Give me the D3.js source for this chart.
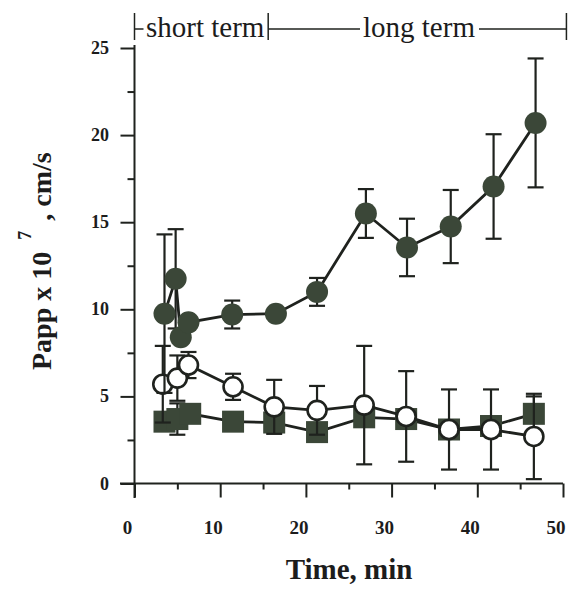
<!DOCTYPE html>
<html>
<head>
<meta charset="utf-8">
<script src="https://cdn.jsdelivr.net/npm/d3@7"></script>
<style>
  body { margin: 0; background: #fff; }
  text { font-family: "Liberation Serif", "Times New Roman", serif; fill: #1c1c1c; }
</style>
</head>
<body>
<svg id="chart" width="568" height="589"></svg>
<script>
// data
// filled circles
const timeFilled = [3.5, 4.8, 5.4, 6.3, 11.4, 16.5, 21.3, 27.0, 31.8, 36.9, 41.9, 46.8]
const pappFilled = [9.75, 11.75, 8.4, 9.25, 9.7, 9.75, 11.0, 15.5, 13.55, 14.75, 17.05, 20.7]
const errFilled = [4.55, 2.85, 0, 0, 0.8, 0, 0.8, 1.4, 1.65, 2.1, 3.0, 3.7]

// open circles
const timeOpen = [3.3, 5.0, 6.3, 11.5, 16.3, 21.3, 26.8, 31.7, 36.7, 41.6, 46.6]
const pappOpen = [5.7, 6.05, 6.8, 5.55, 4.4, 4.2, 4.5, 3.85, 3.1, 3.1, 2.7]
const errOpen = [2.2, 1.3, 0.75, 0.75, 1.55, 1.4, 3.4, 2.6, 2.3, 2.3, 2.45]

// filled squares
const timeSquare = [3.5, 5.0, 6.5, 11.5, 16.3, 21.3, 26.8, 31.7, 36.7, 41.6, 46.6]
const pappSquare = [3.55, 3.7, 4.0, 3.55, 3.5, 2.95, 3.8, 3.7, 3.1, 3.3, 4.0]
const errSquare = [0, 0.9, 0, 0, 0, 0, 0, 0, 0, 0, 1.0]

const xTicks = [0, 10, 20, 30, 40, 50]
const yTicks = [0, 5, 10, 15, 20, 25]

let svg = d3.select("#chart")
let ink = "#1f221e"
let markFill = "#3b4738"

let xScale = d3.scaleLinear().domain([0, 50]).range([134.5, 563])
let yScale = d3.scaleLinear().domain([0, 25]).range([483.5, 48])

// axes
let xAxis = d3.axisBottom(xScale)
    .tickValues(d3.range(0, 51, 5))
    .tickSize(0)
    .tickFormat("")
let xAxisGroup = svg.append("g")
    .attr("transform", `translate(0, ${yScale(0)})`)
    .call(xAxis)
xAxisGroup.select(".domain").remove()
xAxisGroup.append("line")
    .attr("x1", 120).attr("x2", xScale(50))
    .attr("stroke", ink).attr("stroke-width", 2)
xAxisGroup.selectAll(".tick line")
    .attr("y2", d => d % 10 == 0 ? 14 : 6)
    .attr("stroke", ink).attr("stroke-width", 2)

let yAxis = d3.axisLeft(yScale)
    .tickValues(d3.range(0, 25.1, 2.5))
    .tickSize(0)
    .tickFormat("")
let yAxisGroup = svg.append("g")
    .attr("transform", `translate(${xScale(0)}, 0)`)
    .call(yAxis)
yAxisGroup.select(".domain").remove()
yAxisGroup.append("line")
    .attr("y1", 45).attr("y2", 498)
    .attr("stroke", ink).attr("stroke-width", 2)
yAxisGroup.selectAll(".tick line")
    .attr("x2", d => d % 5 == 0 ? -14 : -7)
    .attr("stroke", ink).attr("stroke-width", 2)

// tick labels
svg.selectAll(".xlab")
    .data(xTicks)
    .enter()
    .append("text")
    .attr("x", d => xScale(d) - 7)
    .attr("y", 534)
    .attr("text-anchor", "middle")
    .style("font-size", "19px")
    .style("font-weight", "bold")
    .text(d => d)

svg.selectAll(".ylab")
    .data(yTicks)
    .enter()
    .append("text")
    .attr("x", 109)
    .attr("y", d => yScale(d) + 6)
    .attr("text-anchor", "end")
    .style("font-size", "18px")
    .style("font-weight", "bold")
    .text(d => d)

// axis titles
svg.append("text")
    .attr("x", 349)
    .attr("y", 579)
    .attr("text-anchor", "middle")
    .style("font-size", "29px")
    .style("font-weight", "bold")
    .text("Time, min")

let yTitle = svg.append("text")
    .attr("transform", "translate(51, 370) rotate(-90)")
    .style("font-size", "28px")
    .style("font-weight", "bold")
yTitle.append("tspan").text("Papp x 10")
yTitle.append("tspan").attr("dx", 12).attr("dy", -20).style("font-size", "18px").text("7")
yTitle.append("tspan").attr("dx", 10).attr("dy", 20).text(", cm/s")

// short term / long term bracket
let bracketY = 29
let xs = [xScale(0), xScale(15.6), xScale(50.4)]
xs.forEach(function (x) {
    svg.append("line")
        .attr("x1", x).attr("x2", x).attr("y1", 13).attr("y2", 40)
        .attr("stroke", ink).attr("stroke-width", 1.5)
})
svg.append("line").attr("x1", xs[0]).attr("x2", xs[0] + 9).attr("y1", bracketY).attr("y2", bracketY)
    .attr("stroke", ink).attr("stroke-width", 1.5)
svg.append("line").attr("x1", xs[1]).attr("x2", 360).attr("y1", bracketY).attr("y2", bracketY)
    .attr("stroke", ink).attr("stroke-width", 1.5)
svg.append("line").attr("x1", 479).attr("x2", xs[2]).attr("y1", bracketY).attr("y2", bracketY)
    .attr("stroke", ink).attr("stroke-width", 1.5)
svg.append("text").attr("x", 146).attr("y", 37).style("font-size", "29px").text("short term")
svg.append("text").attr("x", 363).attr("y", 37).style("font-size", "29px").text("long term")

// series drawing
let line = d3.line()
    .x(d => xScale(d.t))
    .y(d => yScale(d.v))

function drawSeries(times, vals, errs, shape) {
    let data = times.map((t, i) => ({ t: t, v: vals[i], e: errs[i] }))
    let g = svg.append("g")

    g.append("path")
        .datum(data)
        .attr("d", line)
        .attr("fill", "none")
        .attr("stroke", ink)
        .attr("stroke-width", 2.8)

    let bars = g.selectAll(".err")
        .data(data.filter(d => d.e > 0))
        .enter()
        .append("g")
    bars.append("line")
        .attr("x1", d => xScale(d.t)).attr("x2", d => xScale(d.t))
        .attr("y1", d => yScale(d.v - d.e)).attr("y2", d => yScale(d.v + d.e))
        .attr("stroke", ink).attr("stroke-width", 2.2)
    ;[-1, 1].forEach(function (s) {
        bars.append("line")
            .attr("x1", d => xScale(d.t) - 8).attr("x2", d => xScale(d.t) + 8)
            .attr("y1", d => yScale(d.v + s * d.e)).attr("y2", d => yScale(d.v + s * d.e))
            .attr("stroke", ink).attr("stroke-width", 2.2)
    })

    if (shape == "square") {
        g.selectAll(".mark")
            .data(data)
            .enter()
            .append("rect")
            .attr("x", d => xScale(d.t) - 11)
            .attr("y", d => yScale(d.v) - 11)
            .attr("width", 22).attr("height", 22)
            .attr("fill", markFill)
    } else if (shape == "open") {
        g.selectAll(".mark")
            .data(data)
            .enter()
            .append("circle")
            .attr("cx", d => xScale(d.t))
            .attr("cy", d => yScale(d.v))
            .attr("r", 9.5)
            .attr("fill", "#fff")
            .attr("stroke", ink)
            .attr("stroke-width", 2.6)
    } else {
        g.selectAll(".mark")
            .data(data)
            .enter()
            .append("circle")
            .attr("cx", d => xScale(d.t))
            .attr("cy", d => yScale(d.v))
            .attr("r", 11)
            .attr("fill", markFill)
    }
}

drawSeries(timeSquare, pappSquare, errSquare, "square")
drawSeries(timeOpen, pappOpen, errOpen, "open")
drawSeries(timeFilled, pappFilled, errFilled, "filled")
</script>
</body>
</html>
